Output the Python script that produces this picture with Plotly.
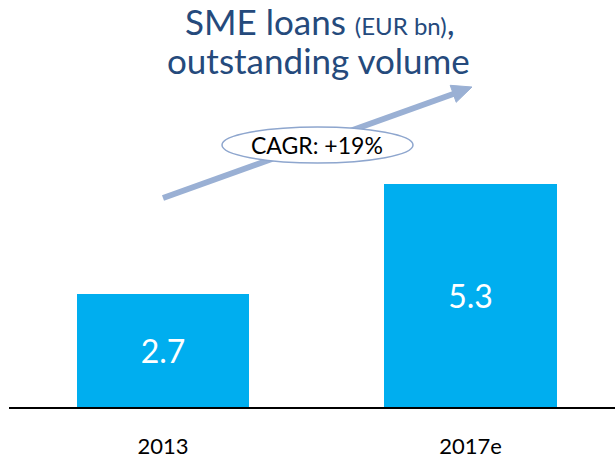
import plotly.graph_objects as go

# Chart data
categories = ["2013", "2017e"]
values = [2.7, 5.3]
cagr_label = "CAGR: +19%"
title_line1 = "SME loans <span style='font-size:24px'>(EUR bn)</span>,"
title_line2 = "outstanding volume"

W, H = 615, 462
ML, MR, MT, MB = 9, 0, 0, 55
PW, PH = W - ML - MR, H - MT - MB

BAR = "#00AEEF"
ARROW = "#9AB0D4"
TITLE = "#254A7C"
FONT = "Lato, 'Open Sans', sans-serif"


def px(x):
    return (x - ML) / PW


def py(y):
    return (H - MB - y) / PH


xs = list(range(len(categories)))

fig = go.Figure()
fig.add_trace(go.Bar(
    x=xs, y=values, width=0.56,
    marker=dict(color=BAR, line=dict(width=0)),
    text=[f"{v:.1f}" for v in values],
    textposition="inside", insidetextanchor="middle", textangle=0,
    textfont=dict(color="white", size=32, family=FONT),
    hoverinfo="skip",
))

# growth arrow: shaft, head (pixel-sized path anchored at tip), then CAGR ellipse on top
tip = (472, 87)
tail = (163, 198)
shaft_end = (456, 93)
shapes = [
    dict(type="line", xref="paper", yref="paper",
         x0=px(tail[0]), y0=py(tail[1]), x1=px(shaft_end[0]), y1=py(shaft_end[1]),
         line=dict(color=ARROW, width=6), layer="above"),
    dict(type="path", xref="paper", yref="paper",
         xsizemode="pixel", ysizemode="pixel",
         xanchor=px(tip[0]), yanchor=py(tip[1]),
         path="M 0,0 L -15.8,-15.3 L -21.8,1.7 Z",
         fillcolor=ARROW, line=dict(color=ARROW, width=1), layer="above"),
    dict(type="circle", xref="paper", yref="paper",
         x0=px(222), x1=px(413), y0=py(163), y1=py(127),
         fillcolor="white", line=dict(color="#8EA6CE", width=1.5), layer="above"),
]

annotations = [
    dict(text=cagr_label, xref="paper", yref="paper", x=px(317), y=py(145),
         xanchor="center", yanchor="middle",
         showarrow=False, font=dict(size=23, color="black", family=FONT)),
    dict(text=title_line1, xref="paper", yref="paper", x=px(320), y=py(-2),
         xanchor="center", yanchor="top",
         showarrow=False, font=dict(size=35, color=TITLE, family=FONT)),
    dict(text=title_line2, xref="paper", yref="paper", x=px(318), y=py(37),
         xanchor="center", yanchor="top",
         showarrow=False, font=dict(size=35, color=TITLE, family=FONT)),
]

fig.update_layout(
    width=W, height=H, autosize=False,
    margin=dict(l=ML, r=MR, t=MT, b=MB),
    paper_bgcolor="white", plot_bgcolor="white",
    showlegend=False, bargap=0,
    shapes=shapes, annotations=annotations,
    xaxis=dict(range=[-0.5008, 1.47], tickvals=xs, ticktext=categories,
               showline=True, linecolor="black", linewidth=2,
               showgrid=False, zeroline=False, ticks="",
               ticklabelstandoff=19,
               tickfont=dict(size=22, color="black", family=FONT)),
    yaxis=dict(range=[0, PH / 42.0], visible=False, showgrid=False, zeroline=False),
)

fig.write_html("out.html")
